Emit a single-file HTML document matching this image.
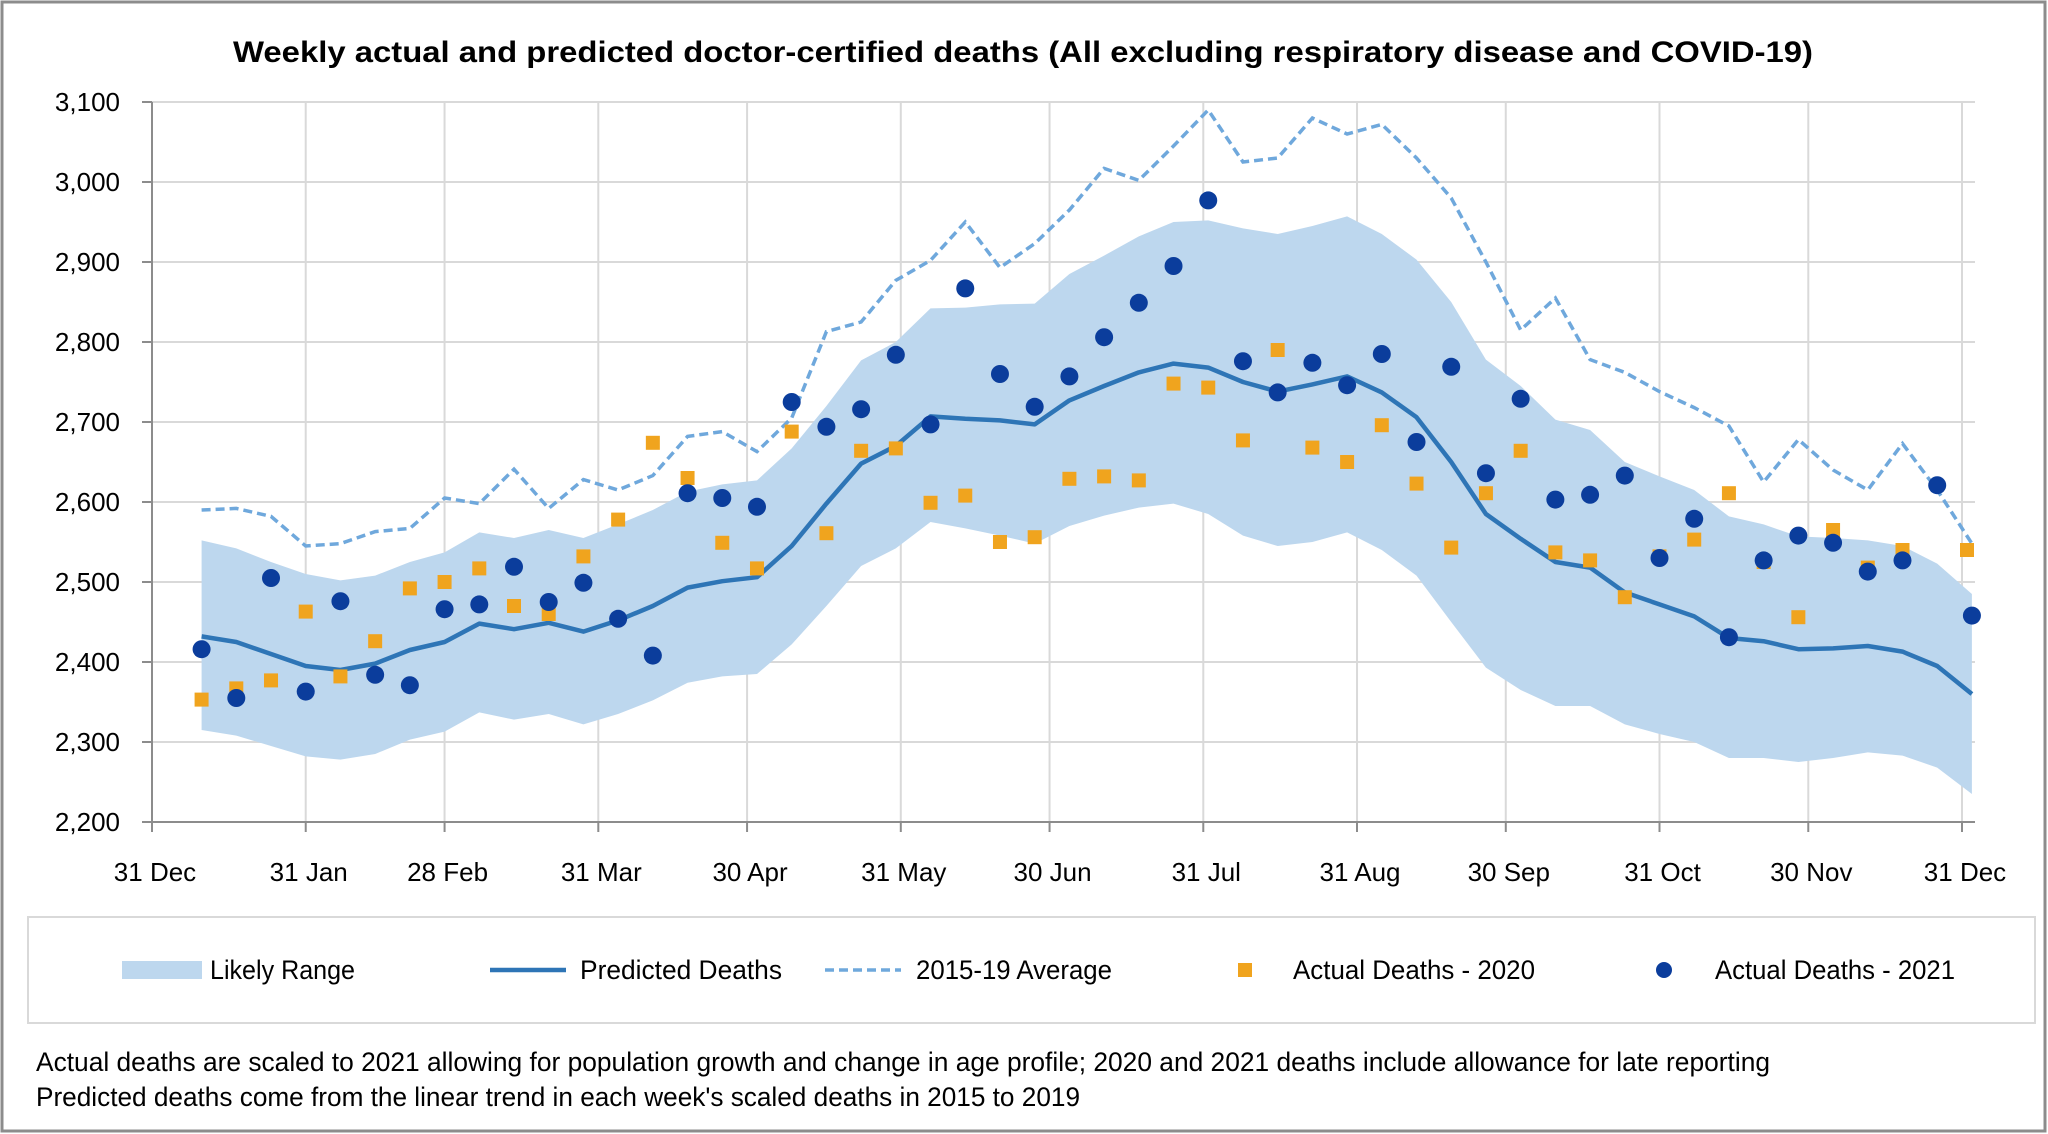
<!DOCTYPE html>
<html><head><meta charset="utf-8"><style>
html,body{margin:0;padding:0;background:#fff}
svg{display:block}
text{font-family:"Liberation Sans",sans-serif;fill:#000}
</style></head><body>
<svg id="c" width="2048" height="1134" xmlns="http://www.w3.org/2000/svg">
<rect x="2" y="2" width="2043" height="1129" fill="#fff" stroke="#8c8c8c" stroke-width="3"/>
<text x="1023" y="62" text-anchor="middle" font-size="30" font-weight="bold" textLength="1580" lengthAdjust="spacingAndGlyphs">Weekly actual and predicted doctor-certified deaths (All excluding respiratory disease and COVID-19)</text>
<g id="grid"></g>
<g id="plot"></g>
<rect x="28" y="917" width="2007" height="106" fill="none" stroke="#d9d9d9" stroke-width="2"/>
<rect x="122" y="961" width="80" height="18" fill="#BDD7EE"/>
<text x="210" y="979" font-size="27" textLength="145" lengthAdjust="spacingAndGlyphs">Likely Range</text>
<line x1="490" y1="970" x2="566" y2="970" stroke="#2E75B6" stroke-width="4.5"/>
<text x="580" y="979" font-size="27" textLength="202" lengthAdjust="spacingAndGlyphs">Predicted Deaths</text>
<line x1="825" y1="970" x2="901" y2="970" stroke="#6FA8DC" stroke-width="3.5" stroke-dasharray="9,5"/>
<text x="916" y="979" font-size="27" textLength="196" lengthAdjust="spacingAndGlyphs">2015-19 Average</text>
<rect x="1238" y="963" width="14" height="14" fill="#F0A41E"/>
<text x="1293" y="979" font-size="27" textLength="242" lengthAdjust="spacingAndGlyphs">Actual Deaths - 2020</text>
<circle cx="1664" cy="970" r="8" fill="#0B3D9C"/>
<text x="1715" y="979" font-size="27" textLength="240" lengthAdjust="spacingAndGlyphs">Actual Deaths - 2021</text>
<text x="36" y="1071" font-size="27" textLength="1734" lengthAdjust="spacingAndGlyphs">Actual deaths are scaled to 2021 allowing for population growth and change in age profile; 2020 and 2021 deaths include allowance for late reporting</text>
<text x="36" y="1106" font-size="27" textLength="1044" lengthAdjust="spacingAndGlyphs">Predicted deaths come from the linear trend in each week's scaled deaths in 2015 to 2019</text>
</svg>
<script>
const NS="http://www.w3.org/2000/svg";
const X0=152,X1=1962,pd=(X1-X0)/365;
const Y=v=>822-(v-2200)*0.8;
const X=i=>X0+(10+7*i)*pd;
function el(t,a,p){const e=document.createElementNS(NS,t);for(const k in a)e.setAttribute(k,a[k]);(p||document.getElementById('plot')).appendChild(e);return e;}
const g=document.getElementById('grid');
for(let v=2200;v<=3100;v+=100){
 if(v>2200) el('line',{x1:X0,x2:1975,y1:Y(v),y2:Y(v),stroke:'#d9d9d9','stroke-width':2},g);
 el('line',{x1:142,x2:X0,y1:Y(v),y2:Y(v),stroke:'#8c8c8c','stroke-width':2},g);
 const t=el('text',{x:120,y:Y(v)+9,'font-size':26,'text-anchor':'end'},g);t.textContent=(v/1000|0)+','+String(v%1000).padStart(3,'0');
}
const md=[[0,'31 Dec'],[31,'31 Jan'],[59,'28 Feb'],[90,'31 Mar'],[120,'30 Apr'],[151,'31 May'],[181,'30 Jun'],[212,'31 Jul'],[243,'31 Aug'],[273,'30 Sep'],[304,'31 Oct'],[334,'30 Nov'],[365,'31 Dec']];
md.forEach(([d,l])=>{const x=X0+d*pd;
 if(d>0) el('line',{x1:x,x2:x,y1:102,y2:822,stroke:'#d9d9d9','stroke-width':2},g);
 el('line',{x1:x,x2:x,y1:822,y2:832,stroke:'#8c8c8c','stroke-width':2},g);
 const t=el('text',{x:x+3,y:881,'font-size':26,'text-anchor':'middle'},g);t.textContent=l;});
el('line',{x1:X0,x2:X0,y1:102,y2:822,stroke:'#8c8c8c','stroke-width':2},g);
el('line',{x1:X0,x2:1975,y1:822,y2:822,stroke:'#8c8c8c','stroke-width':2},g);
const pred=[2432,2425,2410,2395,2390,2398,2415,2425,2448,2441,2449,2438,2452,2470,2493,2501,2506,2545,2598,2648,2670,2707,2704,2702,2697,2727,2745,2762,2773,2768,2750,2738,2747,2757,2737,2706,2650,2585,2554,2525,2518,2487,2472,2457,2430,2426,2416,2417,2420,2413,2395,2360];
const up=[2552,2542,2525,2510,2502,2508,2525,2537,2562,2555,2565,2555,2572,2590,2613,2622,2627,2667,2720,2777,2800,2842,2843,2847,2848,2885,2908,2932,2950,2952,2942,2935,2945,2957,2935,2903,2850,2778,2745,2703,2690,2650,2632,2615,2582,2572,2557,2555,2552,2545,2523,2485];
const lo=[2315,2308,2295,2282,2278,2285,2303,2313,2337,2328,2335,2322,2335,2352,2374,2382,2385,2422,2470,2520,2542,2575,2567,2558,2548,2570,2583,2593,2598,2585,2558,2545,2550,2562,2540,2508,2450,2393,2365,2345,2345,2322,2310,2300,2280,2280,2275,2280,2287,2283,2268,2235];
const avg=[2590,2592,2582,2545,2548,2563,2567,2605,2598,2641,2592,2628,2615,2633,2682,2688,2663,2705,2813,2825,2877,2902,2950,2893,2923,2965,3017,3002,3045,3090,3025,3030,3080,3060,3072,3030,2980,2900,2815,2855,2778,2762,2738,2718,2695,2625,2678,2640,2615,2673,2615,2548];
const a20=[2353,2367,2377,2463,2382,2426,2492,2500,2517,2470,2460,2532,2578,2674,2630,2549,2517,2688,2561,2664,2667,2599,2608,2550,2556,2629,2632,2627,2748,2743,2677,2790,2668,2650,2696,2623,2543,2611,2664,2537,2527,2481,2532,2553,2611,2525,2456,2565,2518,2540,2540];
const a21=[2416,2355,2505,2363,2476,2384,2371,2466,2472,2519,2475,2499,2454,2408,2611,2605,2594,2725,2694,2716,2784,2697,2867,2760,2719,2757,2806,2849,2895,2977,2776,2737,2774,2746,2785,2675,2769,2636,2729,2603,2609,2633,2530,2579,2431,2527,2558,2549,2513,2527,2621,2458];
let d='M'+up.map((v,i)=>X(i).toFixed(1)+','+Y(v).toFixed(1)).join(' L');
for(let i=lo.length-1;i>=0;i--) d+=' L'+X(i).toFixed(1)+','+Y(lo[i]).toFixed(1);
el('path',{d:d+'Z',fill:'#BDD7EE'});
const pl=a=>a.map((v,i)=>X(i).toFixed(1)+','+Y(v).toFixed(1)).join(' ');
el('polyline',{points:pl(avg),fill:'none',stroke:'#6FA8DC','stroke-width':3.5,'stroke-dasharray':'9,5'});
el('polyline',{points:pl(pred),fill:'none',stroke:'#2E75B6','stroke-width':4.5,'stroke-linejoin':'round'});
a20.forEach((v,i)=>{const x=i===50?1967:X(i);el('rect',{x:x-7,y:Y(v)-7,width:14,height:14,fill:'#F0A41E'});});
a21.forEach((v,i)=>el('circle',{cx:X(i),cy:Y(v),r:9,fill:'#0B3D9C'}));
</script>
</body></html>
